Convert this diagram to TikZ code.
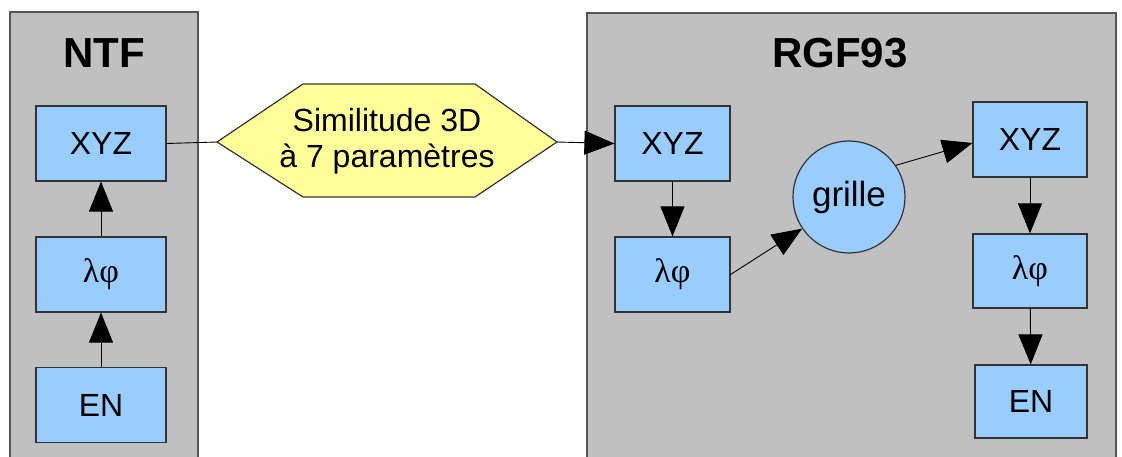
\documentclass[tikz,border=0pt]{standalone}
\usepackage{fontspec}
\setmainfont{Liberation Sans}
\newfontfamily\serifgr{Liberation Serif}
\usetikzlibrary{arrows.meta,calc}
\definecolor{panelgray}{HTML}{C0C0C0}
\definecolor{panelline}{HTML}{555555}
\definecolor{boxblue}{HTML}{99CCFF}
\definecolor{hexyellow}{HTML}{FFFF99}
\begin{document}
\begin{tikzpicture}[x=1pt,y=-1pt,
  panel/.style={fill=panelgray,draw=panelline,line width=1.2pt},
  box/.style={rectangle,fill=boxblue,draw=black!80,line width=1.2pt,inner sep=0pt,
    font=\fontsize{32}{36}\selectfont},
  lbox/.style={box,minimum width=130pt,minimum height=75pt},
  rbox/.style={box,minimum width=115pt,minimum height=75pt},
  greek/.style={font=\serifgr\fontsize{34}{38}\selectfont},
  title/.style={font=\fontsize{42}{46}\selectfont\bfseries},
  conn/.style={line width=0.9pt},
  arr/.style={conn,-{Triangle[length=30pt,width=24pt]}}
]
\useasboundingbox (0,0) rectangle (1122,457);
\clip (0,0) rectangle (1122,457);
\fill[white] (0,0) rectangle (1122,457);
% panels
\draw[panel] (10,470) -- (10,12) -- (198,12) -- (198,470);
\draw[panel] (587,470) -- (587,13) -- (1116,13) -- (1116,470);
\node[title] (ntf) at (104,53) {NTF};
\node[title] (rgf) at (840,53) {RGF93};
% NTF boxes
\node[lbox] (nxyz) at (101,143.5) {XYZ};
\node[lbox,greek] (nlp) at (101,274.5) {λφ};
\node[lbox] (nen) at (101,405) {EN};
% hexagon
\coordinate (hexL) at (217,142);
\coordinate (hexR) at (557,142);
\draw[fill=hexyellow,draw=black!80,line width=1.2pt]
  (hexL) -- (303,84) -- (475,84) -- (hexR) -- (475,197) -- (303,197) -- cycle;
\node[align=center,font=\fontsize{32}{36}\selectfont] (hex) at (387,141.5)
  {Similitude 3D\\à 7 paramètres};
% RGF93 boxes
\node[rbox] (rxyz1) at (672.5,143.5) {XYZ};
\node[rbox,greek] (rlp1) at (672.5,274.5) {λφ};
\node[circle,fill=boxblue,draw=black!80,line width=1.2pt,minimum size=112pt,inner sep=0pt,
  font=\fontsize{35}{40}\selectfont] (grille) at (849,197) {grille};
\node[rbox,minimum width=114pt] (rxyz2) at (1030,139.5) {XYZ};
\node[rbox,minimum width=114pt,minimum height=74pt,greek] (rlp2) at (1030,271) {λφ};
\node[rbox,minimum width=112pt,minimum height=73pt] (ren2) at (1031,401.5) {EN};
% connectors
\draw[arr] (nen) -- (nlp);
\draw[arr] (nlp) -- (nxyz);
\draw[conn] (nxyz.east) -- (hexL);
\draw[arr] (hexR) -- (rxyz1.west);
\draw[arr] (rxyz1) -- (rlp1);
\draw[arr] (rlp1.east) -- (grille.214);
\draw[arr] (grille.34) -- ($(rxyz2.west)+(0,3.5)$);
\draw[arr] (rxyz2) -- (rlp2);
\draw[arr] (rlp2) -- (ren2);
\end{tikzpicture}
\end{document}
